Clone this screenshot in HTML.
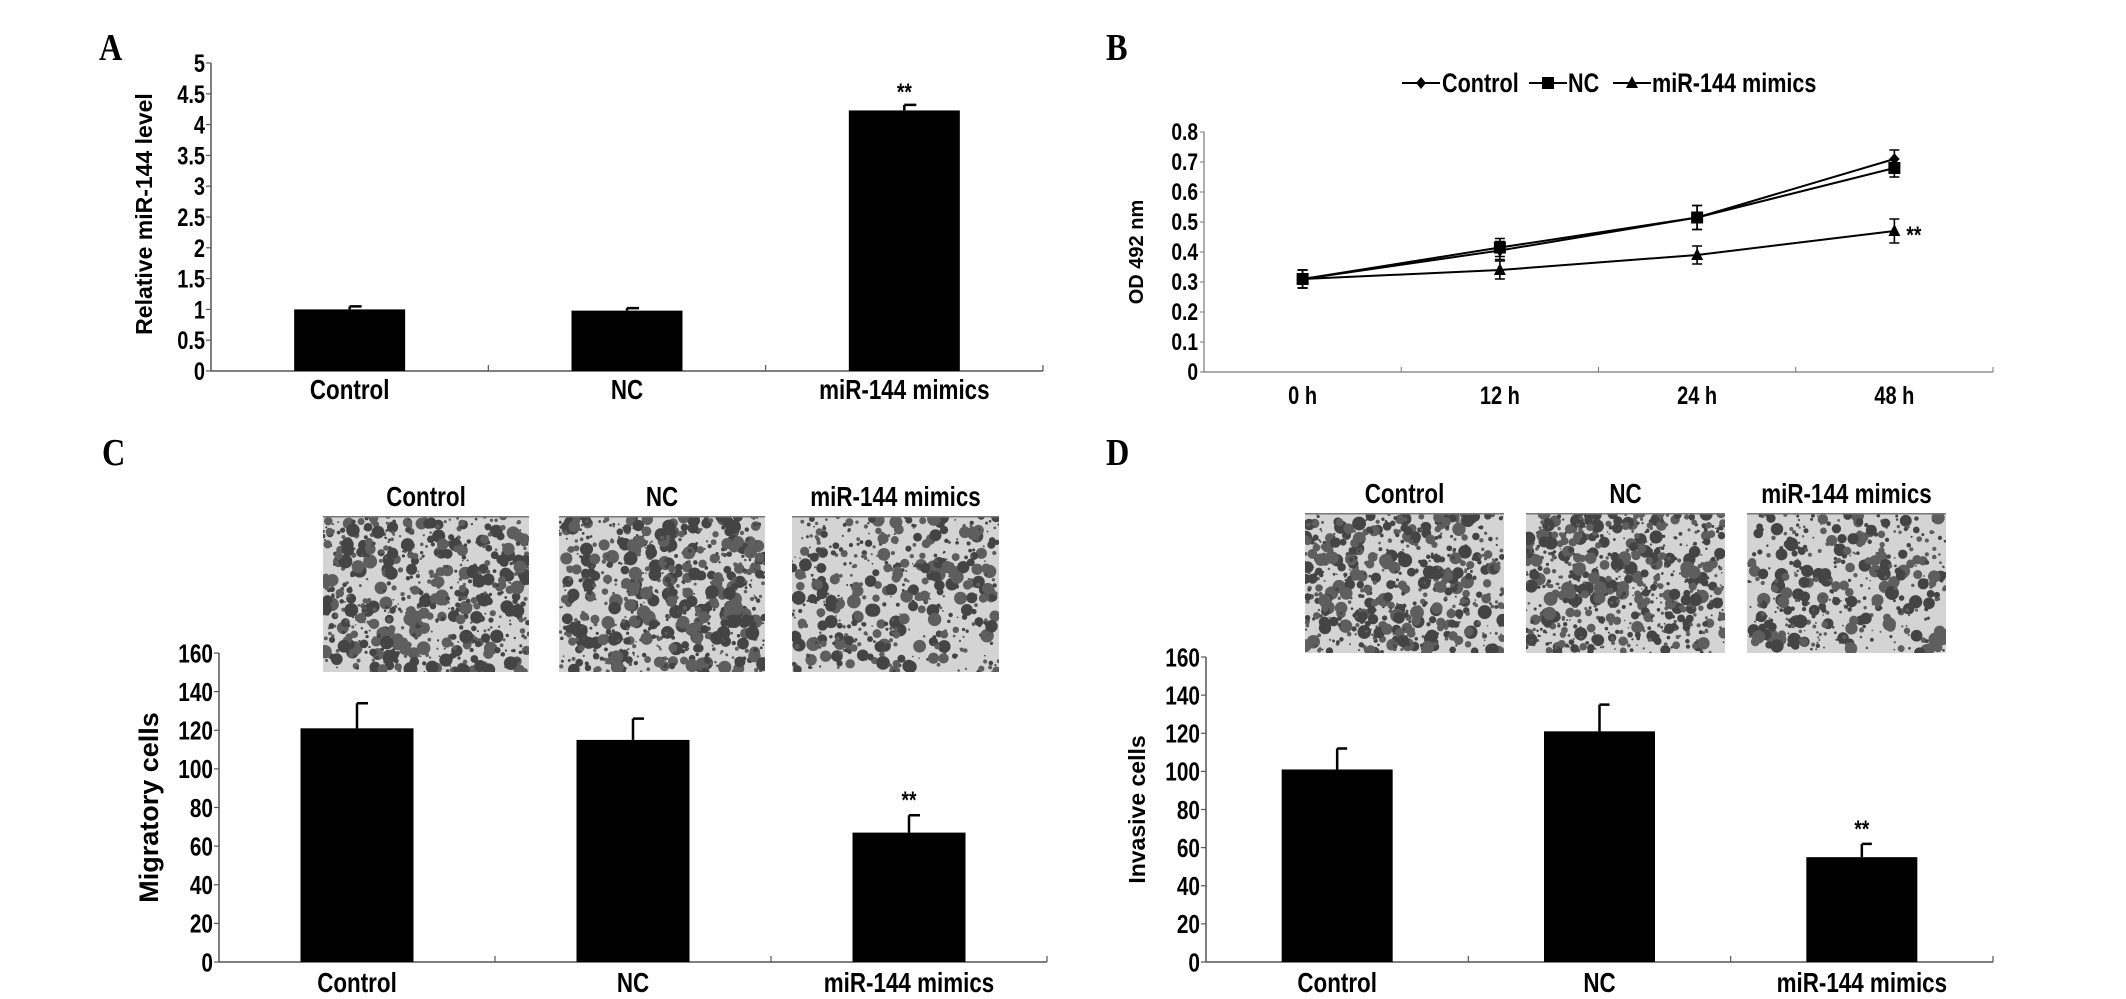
<!DOCTYPE html>
<html><head><meta charset="utf-8">
<style>
html,body{margin:0;padding:0;background:#fff;}
svg{display:block;}
text{font-family:"Liberation Sans",sans-serif;font-weight:bold;fill:#000;}
.p{font-family:"Liberation Serif",serif;font-size:38px;}
</style></head>
<body>
<svg id="fig" width="2126" height="999" viewBox="0 0 2126 999" xmlns="http://www.w3.org/2000/svg">
<text class="p" x="99" y="60" transform="translate(99 60) scale(0.85 1) translate(-99 -60)">A</text>
<text class="p" x="1106" y="60" transform="translate(1106 60) scale(0.85 1) translate(-1106 -60)">B</text>
<text class="p" x="102" y="465" transform="translate(102 465) scale(0.85 1) translate(-102 -465)">C</text>
<text class="p" x="1106" y="465" transform="translate(1106 465) scale(0.85 1) translate(-1106 -465)">D</text>
<g id="gA"></g>
<g id="gB"></g>
<g id="gC"></g>
<g id="gD"></g>
</svg>
<script>
// Panel A data
const aCats = ["Control", "NC", "miR-144 mimics"];
const aVals = [1.0, 0.98, 4.23];
const aErrs = [0.05, 0.04, 0.09];
const aTicks = ["0","0.5","1","1.5","2","2.5","3","3.5","4","4.5","5"];
const aSig = ["", "", "**"];
// Panel B data
const bCats = ["0 h", "12 h", "24 h", "48 h"];
const bControl = [0.31, 0.405, 0.515, 0.71];
const bNC = [0.31, 0.415, 0.515, 0.68];
const bMimics = [0.31, 0.34, 0.39, 0.47];
const bErrs = [0.03, 0.03, 0.04, 0.03];
const bMimicsErrs = [0.03, 0.03, 0.03, 0.04];
const bTicks = ["0","0.1","0.2","0.3","0.4","0.5","0.6","0.7","0.8"];
// Panel C data
const cCats = ["Control", "NC", "miR-144 mimics"];
const cVals = [121, 115, 67];
const cErrs = [13, 11, 9];
const cTicks = ["0","20","40","60","80","100","120","140","160"];
const cSig = ["", "", "**"];
// Panel D data
const dCats = ["Control", "NC", "miR-144 mimics"];
const dVals = [101, 121, 55];
const dErrs = [11, 14, 7];
const dTicks = ["0","20","40","60","80","100","120","140","160"];
const dSig = ["", "", "**"];

const NS = "http://www.w3.org/2000/svg";
const SX = 0.8;
function mk(parent, tag, attrs, txt){
  const e = document.createElementNS(NS, tag);
  for (const k in attrs) e.setAttribute(k, attrs[k]);
  if (txt !== undefined) e.textContent = txt;
  parent.appendChild(e);
  return e;
}
function ntext(parent, x, y, anchor, fs, str){
  return mk(parent,'text',{x:0,y:0,'text-anchor':anchor,'font-size':fs,transform:`translate(${x} ${y}) scale(${SX} 1)`},str);
}

function barPanel(g, o){
  const x0=o.x0, x1=o.x1, yTop=o.yTop, yBot=o.yBot;
  const maxV = parseFloat(o.ticks[o.ticks.length-1]);
  const y = v => yBot - (v/maxV)*(yBot-yTop);
  const n = o.cats.length, band = (x1-x0)/n;
  const cx = i => x0 + band*(i+0.5);
  let e;
  e = mk(g,'line',{x1:x0,y1:yTop,x2:x0,y2:yBot,stroke:'#555','stroke-width':1.5});
   
  e = mk(g,'line',{x1:x0,y1:yBot,x2:x1,y2:yBot,stroke:'#555','stroke-width':1.5});
   
  for (let i=1;i<=n;i++){
    e = mk(g,'line',{x1:x0+band*i,y1:yBot,x2:x0+band*i,y2:yBot-6,stroke:'#555','stroke-width':1.2});
     
  }
  o.ticks.forEach(t=>{
    const v=parseFloat(t), yy=y(v);
    e = mk(g,'line',{x1:x0-5,y1:yy,x2:x0,y2:yy,stroke:'#555','stroke-width':1.2});
     
    e = ntext(g,x0-6,yy+o.tfs*0.36,'end',o.tfs,t);
     
  });
  o.vals.forEach((v,i)=>{
    const bx = cx(i)-o.bw/2;
    e = mk(g,'rect',{x:bx,y:y(v),width:o.bw,height:yBot-y(v),fill:'#000'});
    
    
    const ye = y(v+o.errs[i]);
    e = mk(g,'path',{d:`M${cx(i)} ${y(v)}V${ye}M${cx(i)} ${ye}h${o.cap}`,stroke:'#000','stroke-width':2.5,fill:'none'});
     
    if (o.sig[i]){
      e = ntext(g,cx(i),ye-o.sigOff,'middle',24,o.sig[i]);
       
    }
    e = ntext(g,cx(i),yBot+o.lblOff,'middle',o.cfs,o.cats[i]);
     
  });
  const my=(yTop+yBot)/2+o.titleDy;
  e = mk(g,'text',{x:o.titleX,y:my,'text-anchor':'middle','font-size':o.titleFs,transform:`rotate(-90 ${o.titleX} ${my})`},o.title);
   
}

barPanel(document.getElementById('gA'),{x0:211,x1:1043,yTop:63,yBot:371,cats:aCats,vals:aVals,errs:aErrs,ticks:aTicks,sig:aSig,
  bw:111,cap:12,tfs:25,cfs:28,lblOff:28,sigOff:5,title:"Relative miR-144 level",titleX:152,titleFs:23,titleDy:-3});
barPanel(document.getElementById('gC'),{x0:219,x1:1047,yTop:653,yBot:962,cats:cCats,vals:cVals,errs:cErrs,ticks:cTicks,sig:cSig,
  bw:113,cap:11,tfs:26,cfs:28,lblOff:30,sigOff:7,title:"Migratory cells",titleX:158,titleFs:27,titleDy:0});
barPanel(document.getElementById('gD'),{x0:1206,x1:1993,yTop:657,yBot:962,cats:dCats,vals:dVals,errs:dErrs,ticks:dTicks,sig:dSig,
  bw:111,cap:10,tfs:26,cfs:28,lblOff:30,sigOff:7,title:"Invasive cells",titleX:1145,titleFs:23,titleDy:0});

// micrograph imitation images (texture only)
function micro(g, x, y, w, h, seed, dens, label, name){
  let s = seed;
  const rnd = ()=>{ s = (s*16807)%2147483647; return s/2147483647; };
  const grp = mk(g,'g',{});
   
  mk(grp,'rect',{x:x,y:y,width:w,height:h,fill:'#d4d4d4'});
  const cp = 'cp'+seed;
  const defs = mk(grp,'defs',{});
  const c = mk(defs,'clipPath',{id:cp}); mk(c,'rect',{x:x,y:y,width:w,height:h});
  const inner = mk(grp,'g',{'clip-path':`url(#${cp})`});
  for (let i=0;i<dens;i++){
    const r = rnd()<0.6 ? 0.8+rnd()*1.5 : 2.5+rnd()*4.5;
    mk(inner,'circle',{cx:x+rnd()*w,cy:y+rnd()*h,r:r,fill:rnd()<0.5?'#444':'#5e5e5e'});
  }
  mk(grp,'rect',{x:x,y:y,width:w,height:1.5,fill:'#777'});
  const t = ntext(g,x+w/2,y-10,'middle',28,label);
   
}
const gC=document.getElementById('gC'), gD=document.getElementById('gD');
micro(gC,323,516,206,156,11,700,"Control","micrograph-control-migration");
micro(gC,559,516,206,156,23,760,"NC","micrograph-nc-migration");
micro(gC,792,516,207,156,37,520,"miR-144 mimics","micrograph-mimics-migration");
micro(gD,1305,513,199,140,41,620,"Control","micrograph-control-invasion");
micro(gD,1526,513,199,140,53,700,"NC","micrograph-nc-invasion");
micro(gD,1747,513,199,140,67,440,"miR-144 mimics","micrograph-mimics-invasion");

// Panel B line chart
(function(){
  const g=document.getElementById('gB');
  const x0=1204,x1=1993,yTop=132,yBot=372;
  const maxV=parseFloat(bTicks[bTicks.length-1]);
  const y=v=>yBot-(v/maxV)*(yBot-yTop);
  const band=(x1-x0)/bCats.length;
  const cx=i=>x0+band*(i+0.5);
  let e;
  e=mk(g,'line',{x1:x0,y1:yTop,x2:x0,y2:yBot,stroke:'#777','stroke-width':1.2});
   
  e=mk(g,'line',{x1:x0,y1:yBot,x2:x1,y2:yBot,stroke:'#777','stroke-width':1.2});
   
  for(let i=1;i<=bCats.length;i++){
    e=mk(g,'line',{x1:x0+band*i,y1:yBot,x2:x0+band*i,y2:yBot-5,stroke:'#777','stroke-width':1});
     
  }
  bTicks.forEach(t=>{
    const yy=y(parseFloat(t));
    e=mk(g,'line',{x1:x0-4,y1:yy,x2:x0,y2:yy,stroke:'#777','stroke-width':1});
     
    e=ntext(g,x0-6,yy+8,'end',24,t);
     
  });
  bCats.forEach((c,i)=>{
    e=ntext(g,cx(i),yBot+32,'middle',25,c);
     
  });
  function marker(par,shape,x,yy){
    if(shape==='d') return mk(par,'path',{d:`M${x} ${yy-6}L${x+5} ${yy}L${x} ${yy+6}L${x-5} ${yy}Z`,fill:'#000'});
    if(shape==='s') return mk(par,'rect',{x:x-6,y:yy-6,width:12,height:12,fill:'#000'});
    return mk(par,'path',{d:`M${x} ${yy-7}L${x+6} ${yy+5}L${x-6} ${yy+5}Z`,fill:'#000'});
  }
  const series=[["control",bControl,bErrs,'d'],["nc",bNC,bErrs,'s'],["mimics",bMimics,bMimicsErrs,'t']];
  series.forEach(([nm,vals,errs,sh])=>{
    const sg=mk(g,'g',{});
     
    const pts=vals.map((v,i)=>`${cx(i)},${y(v)}`).join(' ');
    e=mk(sg,'polyline',{points:pts,fill:'none',stroke:'#000','stroke-width':2});
     
    vals.forEach((v,i)=>{
      const a=y(v+errs[i]), b=y(v-errs[i]), x=cx(i);
      e=mk(sg,'path',{d:`M${x} ${a}V${b}M${x-5} ${a}h10M${x-5} ${b}h10`,stroke:'#000','stroke-width':1.6,fill:'none'});
       
      e=marker(sg,sh,x,y(v));
       
    });
  });
  const li=bMimics.length-1;
  e=ntext(g,cx(li)+12,y(bMimics[li])+12,'start',24,"**");
   
  const my=(yTop+yBot)/2;
  e=mk(g,'text',{x:1143,y:my,'text-anchor':'middle','font-size':20,transform:`rotate(-90 1143 ${my})`},"OD 492 nm");
   
  // legend
  const lg=mk(g,'g',{});
   
  const items=[["Control",'d',1402,1445],["NC",'s',1529,1571],["miR-144 mimics",'t',1613,1655]];
  items.forEach(([lab,sh,lx,tx])=>{
    const it=mk(lg,'g',{});
     
    mk(it,'line',{x1:lx,y1:83,x2:lx+38,y2:83,stroke:'#000','stroke-width':2});
    marker(it,sh,lx+19,83);
    ntext(it,tx-3,92,'start',27,lab);
  });
})();
</script>
</body></html>
